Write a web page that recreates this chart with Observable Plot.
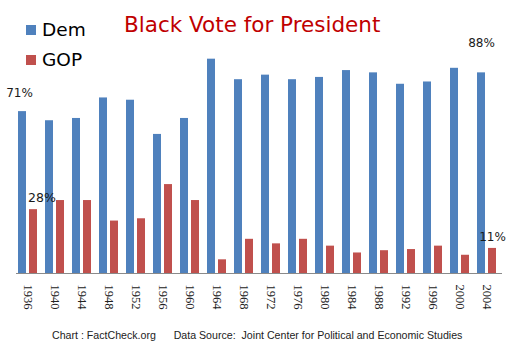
<!DOCTYPE html>
<html>
<head>
<meta charset="utf-8">
<script src="https://cdn.jsdelivr.net/npm/d3@7"></script>
<script src="https://cdn.jsdelivr.net/npm/@observablehq/plot@0.6"></script>
<style>
  html, body { margin: 0; padding: 0; background: #fff; }
  #wrap { position: relative; width: 513px; height: 354px; overflow: hidden; background: #fff; }
  #chart { position: absolute; left: 0; top: 0; }
  .ov { position: absolute; line-height: 1; white-space: pre; font-family: "DejaVu Sans", Verdana, sans-serif; }
  .sw { position: absolute; width: 10px; height: 10px; }
</style>
</head>
<body>
<div id="wrap">
  <div id="chart"></div>
  <div class="ov" id="title" style="left:124px; top:13.5px; font-size:21.5px; color:#C00000;">Black Vote for President</div>
  <div class="sw" style="left:26px; top:25px; background:#4F81BD;"></div>
  <div class="ov" style="left:42px; top:20.8px; font-size:18.5px; color:#000;">Dem</div>
  <div class="sw" style="left:26px; top:55px; background:#C0504D;"></div>
  <div class="ov" style="left:42px; top:50.8px; font-size:18.5px; color:#000;">GOP</div>
  <div class="ov" id="caption" style="left:52px; top:329px; font-size:12px; color:#222; font-family:'Liberation Sans Narrow','Liberation Sans',sans-serif;">Chart : FactCheck.org      Data Source:  Joint Center for Political and Economic Studies</div>
</div>
<script>
const years = [1936, 1940, 1944, 1948, 1952, 1956, 1960, 1964, 1968, 1972, 1976, 1980, 1984, 1988, 1992, 1996, 2000, 2004];
const demVote = [71, 67, 68, 77, 76, 61, 68, 94, 85, 87, 85, 86, 89, 88, 83, 84, 90, 88];
const gopVote = [28, 32, 32, 23, 24, 39, 32, 6, 15, 13, 15, 12, 9, 10, 10.5, 12, 8, 11];
const parties = ["Dem", "GOP"];
const partyColors = ["#4F81BD", "#C0504D"];

const data = years.flatMap((year, i) => [
  {year, party: "Dem", value: demVote[i]},
  {year, party: "GOP", value: gopVote[i]}
]);
const pick = (year, party) => data.filter(d => d.year === year && d.party === party);
const fmt = d => `${d.value}%`;
const labelFont = {fontFamily: "DejaVu Sans, Verdana, sans-serif", fontSize: 12, fill: "#1a1a1a", text: fmt, fx: "year", x: "party", y: "value"};

const chart = Plot.plot({
  width: 513,
  height: 322,
  marginLeft: 13,
  marginRight: 9,
  marginTop: 45,
  marginBottom: 49,
  style: {background: "transparent", fontFamily: "Liberation Serif, serif"},
  fx: {domain: years, padding: 0, axis: null},
  x: {domain: parties, axis: null, paddingInner: 0.25, paddingOuter: 0.26, align: 0.32},
  y: {domain: [0, 100], axis: null},
  color: {domain: parties, range: partyColors},
  marks: [
    Plot.barY(data, {fx: "year", x: "party", y: "value", fill: "party"}),
    Plot.ruleY([0], {stroke: "#8a8a8a", strokeWidth: 1}),
    Plot.axisFx({anchor: "bottom", tickRotate: 90, tickSize: 0, tickPadding: 11, label: null, tickFormat: d => String(d), fontSize: 12.5, fontFamily: "Liberation Serif, serif", fill: "#222", dx: -2.5}),
    Plot.text(pick(1936, "Dem"), {...labelFont, dx: -3, dy: -18}),
    Plot.text(pick(1936, "GOP"), {...labelFont, fontSize: 12.5, dx: 8.5, dy: -12}),
    Plot.text(pick(2004, "Dem"), {...labelFont, dy: -30}),
    Plot.text(pick(2004, "GOP"), {...labelFont, dy: -11})
  ]
});
document.getElementById("chart").appendChild(chart);

// fit caption to its measured span in the reference
const cap = document.getElementById("caption");
const w = cap.getBoundingClientRect().width;
if (w > 0) {
  const fs = 12 * 411 / w;
  cap.style.fontSize = fs + "px";
  cap.style.top = (335 - fs / 2) + "px";
}
</script>
</body>
</html>
